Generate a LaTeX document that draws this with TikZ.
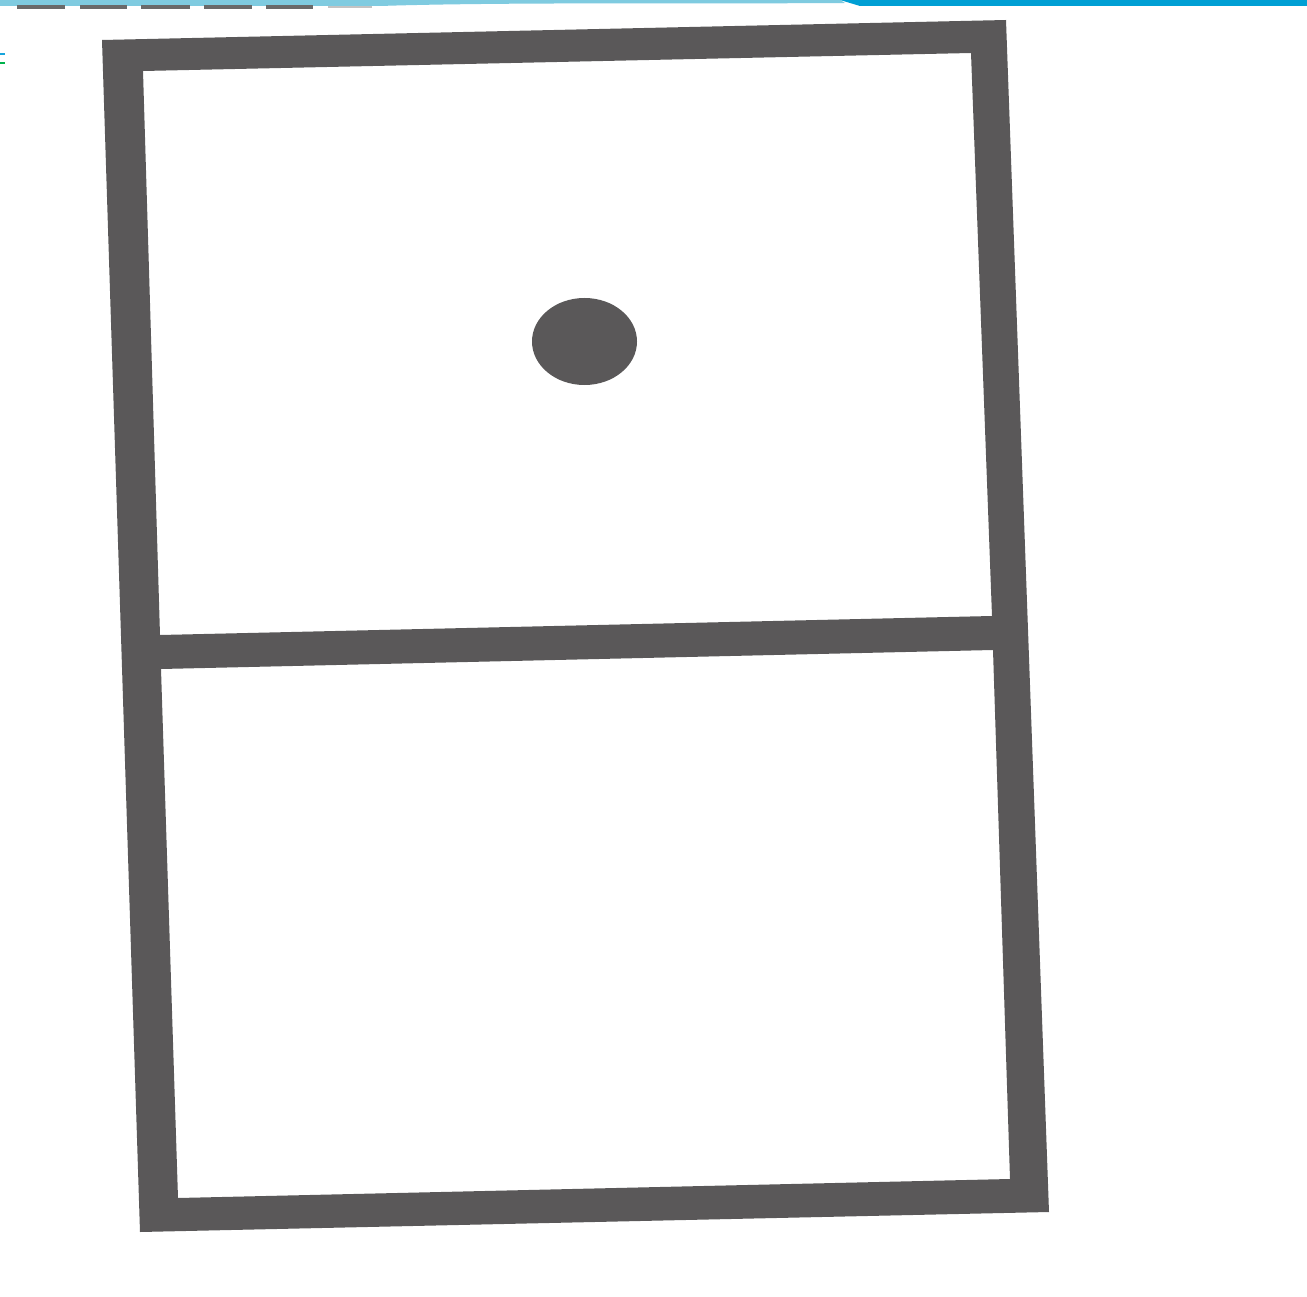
\documentclass[tikz,border=0pt]{standalone}
\usetikzlibrary{calc}
\definecolor{framegray}{HTML}{5A5859}
\definecolor{lightteal}{HTML}{7FCBE0}
\definecolor{deepblue}{HTML}{009FD4}
\definecolor{dashgray}{HTML}{6A6A6A}
\tikzset{
  framefill/.style={fill=framegray, even odd rule},
  dashbar/.style={dashgray, line width=3.5pt},
}
\begin{document}
\begin{tikzpicture}[x=1pt,y=-1pt]
\useasboundingbox (0,0) rectangle (1307,1297);
\fill[white] (0,0) rectangle (1307,1297);
% top decoration band
\fill[lightteal] (0,0) -- (840,0) -- (845,3) .. controls (700,4) and (500,2) .. (380,6) -- (0,6) -- cycle;
\fill[deepblue] (840,0) -- (1307,0) -- (1307,6) -- (860,6) -- cycle;
\foreach \a/\b in {17/65,80/127,141/190,204/252,266/313}
  \draw[dashbar] (\a,7) -- (\b,7);
\draw[dashgray!40, line width=2.5pt] (328,7) -- (372,7);
% left edge marks
\draw[cyan!80!teal, line width=2pt] (0,54) -- (5,54);
\draw[teal!60!green, line width=2pt] (0,63) -- (5,63);
% domino frame
\fill[framefill]
  (102,40) -- (1006,20) -- (1049,1212) -- (140,1232) -- cycle
  (143,71) -- (971,53) -- (992,616) -- (160,635) -- cycle
  (161,669) -- (993,650) -- (1010,1179) -- (178,1198) -- cycle;
% pip
\fill[framegray] (584.5,341.5) ellipse [x radius=52.5, y radius=43.5];
\end{tikzpicture}
\end{document}
